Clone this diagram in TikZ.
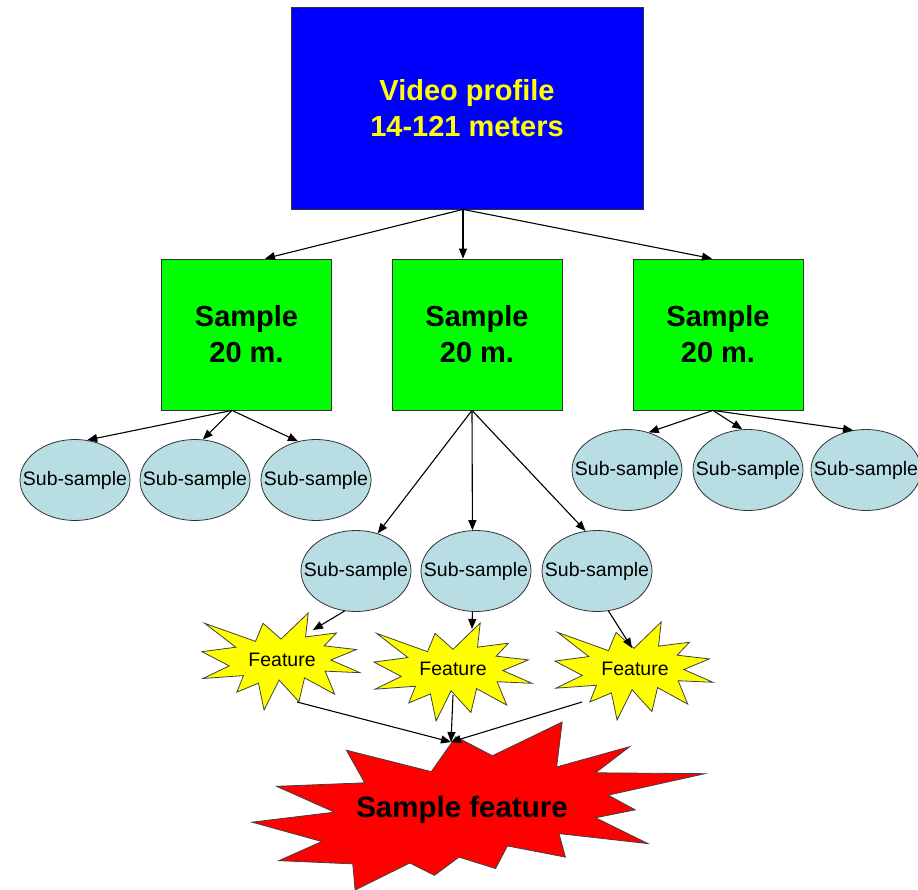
\documentclass[tikz,border=0pt]{standalone}
\usepackage{fontspec}
\setmainfont{Liberation Sans}
\usetikzlibrary{arrows.meta,calc,shapes.geometric}
\definecolor{vblue}{RGB}{0,0,255}
\definecolor{vgreen}{RGB}{0,255,0}
\definecolor{vyellow}{RGB}{255,255,0}
\definecolor{vred}{RGB}{255,0,0}
\definecolor{vlblue}{RGB}{184,222,227}
\newcommand\boomone[1]{%
  \draw[#1] (10.8,5.8) -- (14.522,0) -- (14.155,5.325) -- (18.38,4.457) -- (16.702,7.315) -- (21.097,8.137) -- (17.607,10.475) -- (21.6,13.29) -- (16.837,12.942) -- (18.145,18.095) -- (14.02,14.457) -- (13.247,19.737) -- (10.532,14.935) -- (8.485,21.6) -- (7.715,15.627) -- (4.762,17.617) -- (5.667,13.937) -- (0.135,14.587) -- (3.722,11.775) -- (0,8.615) -- (4.627,7.617) -- (0.37,2.295) -- (7.312,6.32) -- (8.352,2.295) -- cycle;}
\newcommand\boomtwo[1]{%
  \draw[#1] (11.462,4.342) -- (14.79,0) -- (14.525,5.777) -- (18.007,3.172) -- (16.38,6.532) -- (21.6,6.645) -- (16.985,9.402) -- (18.27,11.29) -- (16.38,12.31) -- (18.877,15.632) -- (14.64,14.35) -- (14.942,17.37) -- (12.18,15.935) -- (11.612,18.842) -- (9.872,17.37) -- (8.7,19.712) -- (7.527,18.125) -- (4.917,21.6) -- (4.805,18.24) -- (1.285,17.825) -- (3.33,15.37) -- (0,12.877) -- (3.935,11.592) -- (1.172,8.27) -- (5.372,7.817) -- (4.502,3.625) -- (8.55,6.382) -- (9.722,1.887) -- cycle;}
\tikzset{
  profilebox/.style={draw=black!80, line width=0.8pt, fill=vblue, minimum width=352pt, minimum height=202pt, align=center, text=vyellow, font=\fontsize{29}{36}\selectfont\bfseries},
  samplebox/.style={draw=black!80, line width=0.8pt, fill=vgreen, minimum width=170pt, minimum height=151pt, align=center, font=\fontsize{29}{36}\selectfont\bfseries},
  subbox/.style={ellipse, draw=black!80, line width=0.8pt, fill=vlblue, minimum width=110pt, minimum height=81pt, inner xsep=-16pt, inner ysep=0pt, font=\fontsize{19.5}{22}\selectfont},
  featstar/.style={draw=black!75, line width=0.8pt, fill=vyellow},
  bigstar/.style={draw=black!75, line width=0.8pt, fill=vred},
  featlabel/.style={inner sep=0pt, font=\fontsize{19.5}{22}\selectfont},
  biglabel/.style={inner sep=0pt, font=\fontsize{29.5}{34}\selectfont\bfseries},
  conn/.style={line width=1.1pt, -{Triangle[length=10pt,width=8pt]}}
}
\begin{document}
\begin{tikzpicture}[x=1pt,y=-1pt]
\useasboundingbox (0,0) rectangle (918,890);
\fill[white] (0,0) rectangle (918,890);
% top
\node[profilebox] (vp) at (467,108) {Video profile\\14-121 meters};
% samples
\node[samplebox] (g1) at (246.5,334.5) {Sample\\20 m.};
\node[samplebox] (g2) at (477,334.5) {Sample\\20 m.};
\node[samplebox] (g3) at (718,334.5) {Sample\\20 m.};
% sub-samples
\node[subbox] (l1) at (75,480) {Sub-sample};
\node[subbox] (l2) at (195,480) {Sub-sample};
\node[subbox] (l3) at (316,480) {Sub-sample};
\node[subbox] (r1) at (627,470) {Sub-sample};
\node[subbox] (r2) at (748,470) {Sub-sample};
\node[subbox] (r3) at (866,470) {Sub-sample};
\node[subbox] (m1) at (356,571) {Sub-sample};
\node[subbox] (m2) at (476,571) {Sub-sample};
\node[subbox] (m3) at (597,571) {Sub-sample};
% feature stars
\begin{scope}[shift={(202,613)}, xscale=158/21.6, yscale=97/21.6]\boomone{featstar}\end{scope}
\begin{scope}[shift={(374,623)}, xscale=158/21.6, yscale=98/21.6]\boomone{featstar}\end{scope}
\begin{scope}[shift={(555,622)}, xscale=158/21.6, yscale=98/21.6]\boomone{featstar}\end{scope}
\node[featlabel] (f1) at (282,660) {Feature};
\node[featlabel] (f2) at (453,669) {Feature};
\node[featlabel] (f3) at (635,669) {Feature};
% big star
\begin{scope}[shift={(252,722)}, xscale=453/21.6, yscale=168/21.6]\boomtwo{bigstar}\end{scope}
\node[biglabel] (sf) at (462,810) {Sample feature};
% connector coordinates
\coordinate (vpo) at ($(vp.south)+(-4,0)$);
\coordinate (g1t) at ($(g1.north)+(18.5,0)$);
\coordinate (g2t) at ($(g2.north)+(-14,0)$);
\coordinate (g3t) at ($(g3.north)+(-6,0)$);
\coordinate (g1b) at ($(g1.south)+(-14.5,0)$);
\coordinate (g2b) at ($(g2.south)+(-5,0)$);
\coordinate (g3b) at ($(g3.south)+(-5,0)$);
\coordinate (f1t) at ($(f1)+(31,-30)$);
\coordinate (f2t) at ($(f2)+(19,-40)$);
\coordinate (f3t) at ($(f3)+(-3,-21)$);
\coordinate (f1o) at ($(f1)+(15,42)$);
\coordinate (f2o) at ($(f2)+(0,26)$);
\coordinate (f3o) at ($(f3)+(-53,33)$);
\coordinate (sft) at (451,742);
% connectors
\draw[conn] (vpo) -- (g1t);
\draw[conn] (vpo) -- (g2t);
\draw[conn] (vpo) -- (g3t);
\draw[conn] (g1b) -- (l1.73);
\draw[conn] (g1b) -- (l2.79);
\draw[conn] (g1b) -- (l3.115);
\draw[conn] (g3b) -- (r1.60);
\draw[conn] (g3b) -- (r2.98);
\draw[conn] (g3b) -- (r3.108);
\draw[conn] (g2b) -- (m1.60);
\draw[conn] (g2b) -- (m2.95);
\draw[conn] (g2b) -- (m3.106);
\draw[conn] (m1.-106) -- (f1t);
\draw[conn] (m2.-95) -- (f2t);
\draw[conn] (m3.-74) -- (f3t);
\draw[conn] (f1o) -- (sft);
\draw[conn] (f2o) -- (sft);
\draw[conn] (f3o) -- (sft);
\end{tikzpicture}
\end{document}
